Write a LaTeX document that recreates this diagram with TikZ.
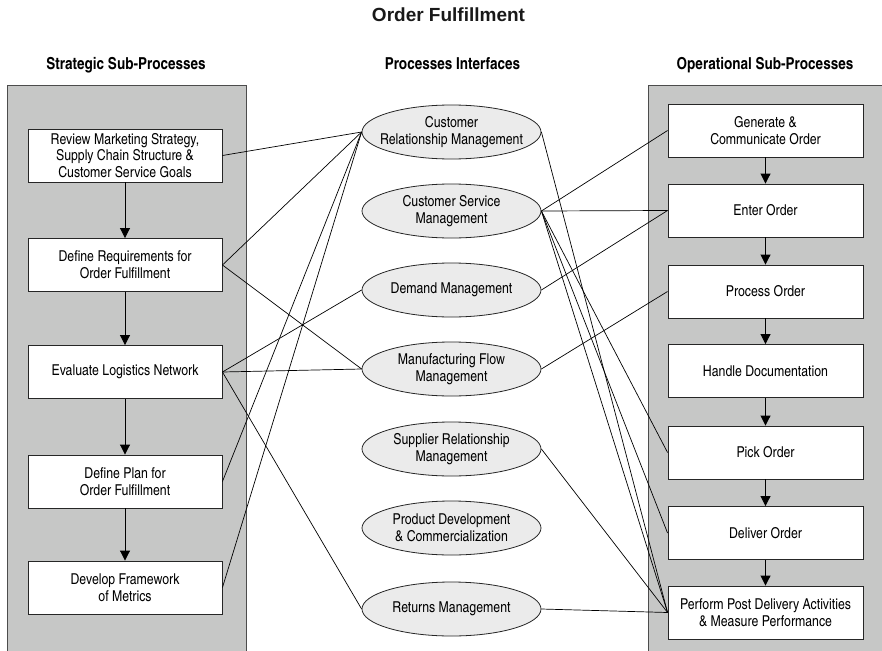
\documentclass[tikz,border=0pt]{standalone}
\usepackage{fontspec}
\setmainfont{texgyreheroscn}[Extension=.otf,UprightFont=*-regular,BoldFont=*-bold,ItalicFont=*-italic,BoldItalicFont=*-bolditalic]
\newfontfamily\titlefont{Liberation Sans}
\usetikzlibrary{shapes.geometric,arrows.meta}
\definecolor{panelgray}{HTML}{C6C7C6}
\definecolor{ellgray}{HTML}{EBEBEB}
\begin{document}
\begin{tikzpicture}[x=1pt,y=-1pt,
  txt/.style={font=\fontsize{15}{16.8}\selectfont, align=center},
  sbox/.style={txt, draw=black!85, fill=white, line width=0.9pt, minimum width=194pt, minimum height=53pt, inner sep=0pt},
  obox/.style={sbox, minimum width=195pt},
  ell/.style={txt, ellipse, draw=black!85, fill=ellgray, line width=0.8pt, minimum width=179pt, minimum height=54pt, inner xsep=-14pt, inner ysep=0pt},
  panel/.style={draw=black!70, fill=panelgray, line width=0.9pt},
  flow/.style={-{Triangle[width=10pt,length=10pt]}, line width=0.9pt},
  link/.style={line width=0.7pt},
  head/.style={font=\bfseries\fontsize{16.5}{19}\selectfont, anchor=base, inner sep=0pt}
]
\clip (0,0) rectangle (882,650);
\fill[white] (0,0) rectangle (882,650);
\draw[panel] (7,85) rectangle (246,662);
\draw[panel] (648,85) rectangle (890,662);

% headings
\node[anchor=base, inner sep=0pt, font=\titlefont\bfseries\fontsize{19}{22}\selectfont, text=black!90] (title) at (448.5,22) {Order Fulfillment};
\node[head] (hs) at (126,69.5) {Strategic Sub-Processes};
\node[head] (hp) at (452.5,69.5) {Processes Interfaces};
\node[head] (ho) at (765,69.5) {Operational Sub-Processes};

% strategic
\node[sbox] (s1) at (125,155.5) {Review Marketing Strategy,\\Supply Chain Structure \&\\Customer Service Goals};
\node[sbox] (s2) at (125,265) {Define Requirements for\\Order Fulfillment};
\node[sbox] (s3) at (125,372) {Evaluate Logistics Network};
\node[sbox] (s4) at (125,481.5) {Define Plan for\\Order Fulfillment};
\node[sbox] (s5) at (125,587.5) {Develop Framework\\of Metrics};

% interfaces
\node[ell] (e1) at (451.5,132) {Customer\\Relationship Management};
\node[ell] (e2) at (451.5,211) {Customer Service\\Management};
\node[ell] (e3) at (451.5,290) {Demand Management};
\node[ell] (e4) at (451.5,369) {Manufacturing Flow\\Management};
\node[ell] (e5) at (451.5,449) {Supplier Relationship\\Management};
\node[ell] (e6) at (451.5,528) {Product Development\\\& Commercialization};
\node[ell] (e7) at (451.5,609) {Returns Management};

% operational
\node[obox] (o1) at (765.5,130.5) {Generate \&\\Communicate Order};
\node[obox] (o2) at (765.5,210.5) {Enter Order};
\node[obox] (o3) at (765.5,291.5) {Process Order};
\node[obox] (o4) at (765.5,371) {Handle Documentation};
\node[obox] (o5) at (765.5,452.5) {Pick Order};
\node[obox] (o6) at (765.5,533) {Deliver Order};
\node[obox] (o7) at (765.5,612.5) {Perform Post Delivery Activities\\\& Measure Performance};

% flows
\foreach \a/\b in {s1/s2,s2/s3,s3/s4,s4/s5,o1/o2,o2/o3,o3/o4,o4/o5,o5/o6,o6/o7}
  \draw[flow] (\a.south) -- (\b.north);

% links left
\draw[link] (s1.east) -- (e1.west);
\draw[link] (s2.east) -- (e1.west);
\draw[link] (s2.east) -- (e4.west);
\draw[link] (s3.east) -- (e3.west);
\draw[link] (s3.east) -- (e4.west);
\draw[link] (s3.east) -- (e7.west);
\draw[link] (s4.east) -- (e1.west);
\draw[link] (s5.east) -- (e1.west);

% links right
\draw[link] (e1.east) -- (o7.west);
\draw[link] (e2.east) -- (o1.west);
\draw[link] (e2.east) -- (o2.west);
\draw[link] (e2.east) -- (o5.west);
\draw[link] (e2.east) -- (o6.west);
\draw[link] (e2.east) -- (o7.west);
\draw[link] (e3.east) -- (o2.west);
\draw[link] (e4.east) -- (o3.west);
\draw[link] (e5.east) -- (o7.west);
\draw[link] (e7.east) -- (o7.west);
\end{tikzpicture}
\end{document}
